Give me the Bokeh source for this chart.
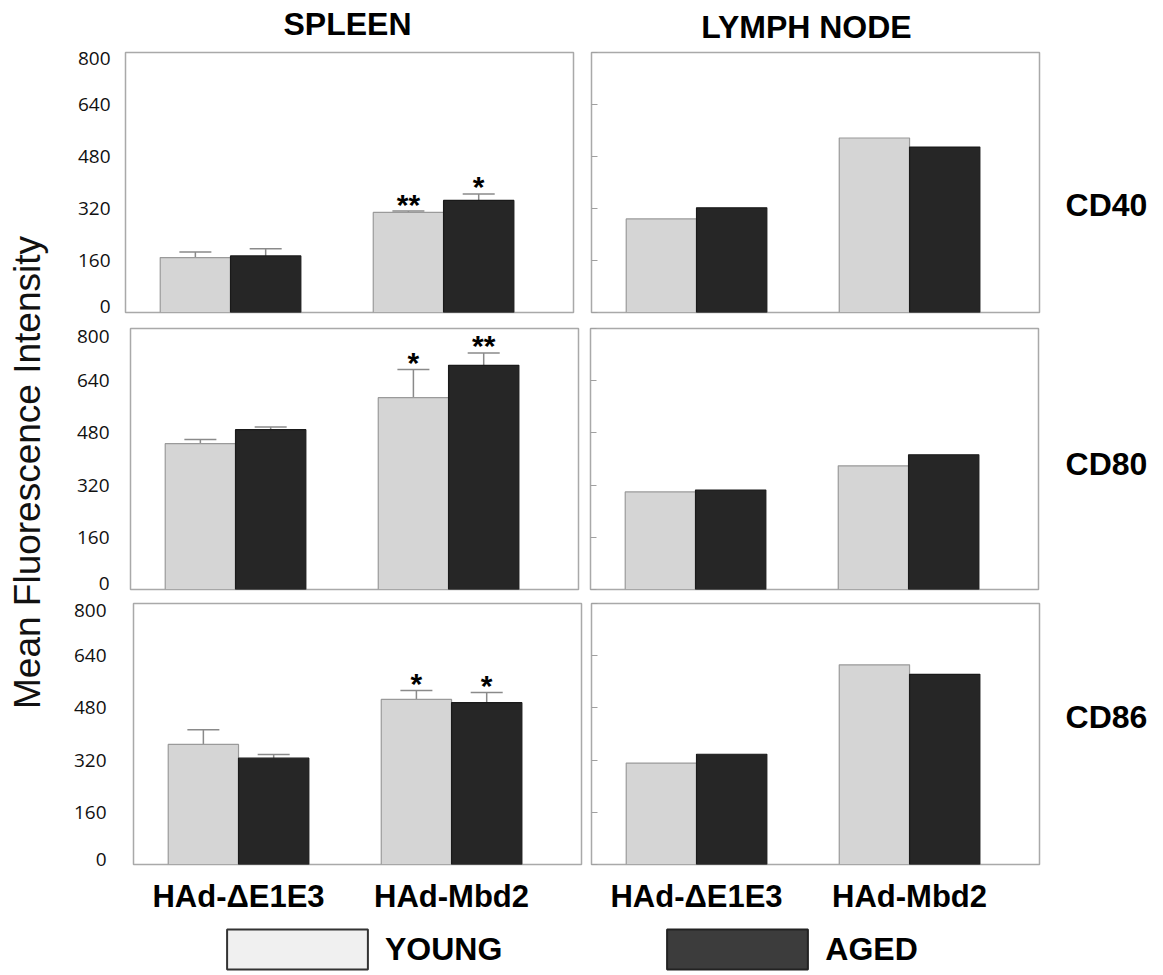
from math import pi

from bokeh.plotting import figure
from bokeh.layouts import row, column
from bokeh.models import (ColumnDataSource, Range1d, FixedTicker, Whisker, TeeHead,
                          Label, Legend, LegendItem)
from bokeh.transform import dodge
from bokeh.core.properties import value
from bokeh.embed import file_html
from bokeh.resources import INLINE

# ---------------- data ----------------
groups = ["HAd-\u0394E1E3", "HAd-Mbd2"]
markers = ["CD40", "CD80", "CD86"]
series = ["YOUNG", "AGED"]
tissues = ["SPLEEN", "LYMPH NODE"]
y_ticks = [0, 160, 320, 480, 640, 800]
y_title = "Mean Fluorescence Intensity"

spleen_cd40_young = [169, 308]
spleen_cd40_young_sem = [17, 4]
spleen_cd40_aged = [174, 345]
spleen_cd40_aged_sem = [22, 20]
spleen_cd40_young_sig = ["", "**"]
spleen_cd40_aged_sig = ["", "*"]

spleen_cd80_young = [447, 588]
spleen_cd80_young_sem = [13, 86]
spleen_cd80_aged = [490, 687]
spleen_cd80_aged_sem = [8, 38]
spleen_cd80_young_sig = ["", "*"]
spleen_cd80_aged_sig = ["", "**"]

spleen_cd86_young = [368, 506]
spleen_cd86_young_sem = [45, 27]
spleen_cd86_aged = [326, 496]
spleen_cd86_aged_sem = [11, 31]
spleen_cd86_young_sig = ["", "*"]
spleen_cd86_aged_sig = ["", "*"]

ln_cd40_young = [288, 537]
ln_cd40_aged = [322, 509]
ln_cd80_young = [299, 379]
ln_cd80_aged = [305, 413]
ln_cd86_young = [311, 612]
ln_cd86_aged = [338, 583]

# ---------------- styles ----------------
BOLD = "Liberation Sans"
YOUNG_FILL, YOUNG_LINE = "#d5d5d5", "#9a9a9a"
AGED_FILL, AGED_LINE = "#262626", "#1a1a1a"
ERR_COLOR = "#8a8a8a"
OUTLINE = "#a9a9a9"
BAR_W = 0.33
OFF = BAR_W / 2
XS = [i + 1 for i in range(len(groups))]


def blank(w, h):
    f = figure(width=w, height=h, output_backend="svg", toolbar_location=None,
               x_axis_location=None, y_axis_location=None,
               x_range=Range1d(0, w), y_range=Range1d(0, h),
               min_border=0, outline_line_color=None)
    f.grid.visible = False
    return f


def panel(young, aged, w, h, borders, show_labels, standoff=0, end_nudge=(0, 0),
          bottom=False, ysem=None, asem=None, ysig=None, asig=None):
    p = figure(width=w, height=h, output_backend="svg", toolbar_location=None,
               x_range=Range1d(0.507, 2.61), y_range=Range1d(0, 800),
               x_axis_location="below" if bottom else None,
               min_border_left=borders[0], min_border_right=borders[1],
               min_border_top=borders[2], min_border_bottom=borders[3])
    p.grid.visible = False
    p.outline_line_color = OUTLINE
    p.outline_line_width = 1.5

    ax = p.yaxis[0]
    ax.axis_line_color = None
    ax.minor_tick_line_color = None
    if show_labels:
        # the end labels sit a few pixels inside the frame, as in the original figure
        frame_h = h - borders[2] - borders[3]
        per_px = (y_ticks[-1] - y_ticks[0]) / frame_h
        lo = round(y_ticks[0] + end_nudge[0] * per_px, 1)
        hi = round(y_ticks[-1] - end_nudge[1] * per_px, 1)
        pos = [lo] + y_ticks[1:-1] + [hi]
        ax.ticker = FixedTicker(ticks=pos)
        ax.major_label_overrides = {q: str(t) for q, t in zip(pos, y_ticks)}
        ax.major_tick_in = 0
        ax.major_tick_out = 0
        ax.major_label_standoff = standoff
        ax.major_label_text_font = "Open Sans"
        ax.major_label_text_font_size = "19px"
        ax.major_label_text_color = "#111111"
    else:
        ax.ticker = FixedTicker(ticks=y_ticks)
        ax.major_tick_in = 6
        ax.major_tick_out = 0
        ax.major_tick_line_color = "#a0a0a0"
        ax.major_label_standoff = 0
        ax.major_label_overrides = {t: "" for t in y_ticks}

    if bottom:
        xa = p.xaxis[0]
        xa.ticker = FixedTicker(ticks=XS)
        xa.major_label_overrides = {x: g for x, g in zip(XS, groups)}
        xa.axis_line_color = None
        xa.major_tick_in = 0
        xa.major_tick_out = 0
        xa.minor_tick_line_color = None
        xa.major_label_standoff = 14
        xa.major_label_text_font = BOLD
        xa.major_label_text_font_style = "bold"
        xa.major_label_text_font_size = "31px"
        xa.major_label_text_color = "black"

    for vals, sem, sig, off, fill, line in (
            (young, ysem, ysig, -OFF, YOUNG_FILL, YOUNG_LINE),
            (aged, asem, asig, OFF, AGED_FILL, AGED_LINE)):
        data = dict(x=XS, top=vals)
        if sem is not None:
            data["upper"] = [v + s for v, s in zip(vals, sem)]
            data["sig"] = sig
        src = ColumnDataSource(data)
        p.vbar(x=dodge("x", off, range=p.x_range), top="top", bottom=0, width=BAR_W,
               source=src, fill_color=fill, line_color=line, line_width=1.2)
        if sem is not None:
            wk = Whisker(source=src, base=dodge("x", off, range=p.x_range),
                         upper="upper", lower="top", dimension="height",
                         line_color=ERR_COLOR, line_width=1.5,
                         upper_head=TeeHead(size=32, line_color=ERR_COLOR, line_width=1.5),
                         lower_head=None)
            p.add_layout(wk)
            p.text(x=dodge("x", off, range=p.x_range), y="upper", text="sig", source=src,
                   text_font=value(BOLD), text_font_style="bold", text_font_size="30px",
                   text_align="center", text_baseline="middle", y_offset=-7,
                   text_color="black")
    return p


def bold_label(x, y, text, size="32px"):
    return Label(x=x, y=y, text=text, text_font=BOLD, text_font_style="bold",
                 text_font_size=size, text_align="center", text_baseline="middle",
                 text_color="black")


# ---------------- layout sizes ----------------
LW, RW, CW, YW = 526, 459, 110, 60
HH, H1, H2, H3, HL = 46, 274, 276, 326, 52
TOTAL_W = YW + LW + RW + CW

# header
header = blank(TOTAL_W, HH)
header.add_layout(bold_label(347, HH - 23.5, tissues[0]))
header.add_layout(bold_label(806, HH - 26, tissues[1]))

# rows
l1 = panel(spleen_cd40_young, spleen_cd40_aged, LW, H1, (65, 13, 6, 8), True, 15, (6.5, 6),
           ysem=spleen_cd40_young_sem, asem=spleen_cd40_aged_sem,
           ysig=spleen_cd40_young_sig, asig=spleen_cd40_aged_sig)
r1 = panel(ln_cd40_young, ln_cd40_aged, RW, H1, (5, 6, 6, 8), False)
l2 = panel(spleen_cd80_young, spleen_cd80_aged, LW, H2, (70, 8, 8, 7), True, 21, (6, 8),
           ysem=spleen_cd80_young_sem, asem=spleen_cd80_aged_sem,
           ysig=spleen_cd80_young_sig, asig=spleen_cd80_aged_sig)
r2 = panel(ln_cd80_young, ln_cd80_aged, RW, H2, (4, 7, 8, 7), False)
l3 = panel(spleen_cd86_young, spleen_cd86_aged, LW, H3, (73, 5, 7, 58), True, 27, (5, 7),
           bottom=True,
           ysem=spleen_cd86_young_sem, asem=spleen_cd86_aged_sem,
           ysig=spleen_cd86_young_sig, asig=spleen_cd86_aged_sig)
r3 = panel(ln_cd86_young, ln_cd86_aged, RW, H3, (5, 6, 7, 58), False, bottom=True)

cds = []
for name, h, yb in ((markers[0], H1, 113), (markers[1], H2, 133), (markers[2], H3, 184)):
    c = blank(CW, h)
    c.add_layout(bold_label(61, yb, name))
    cds.append(c)

ylab = blank(YW, H1 + H2 + H3)
ylab.add_layout(Label(x=27, y=H1 + H2 + H3 - (472 - HH), text=y_title, text_font=BOLD,
                      text_font_size="37px", angle=pi / 2, text_align="center",
                      text_baseline="middle", text_color="#111111"))

# legend (proxy renderers carry the swatch styles only, no drawn data)
lg = blank(TOTAL_W, HL)
nan = float("nan")
ry = lg.vbar(x=[nan], top=[nan], width=1, fill_color="#f0f0f0", line_color="#333333",
             line_width=2)
ra = lg.vbar(x=[nan], top=[nan], width=1, fill_color="#3c3c3c", line_color="#222222",
             line_width=2)
legend = Legend(items=[LegendItem(label=series[0], renderers=[ry]),
                       LegendItem(label=series[1], renderers=[ra])],
                location=(209, 0), orientation="horizontal",
                glyph_width=176, glyph_height=50, label_standoff=0, spacing=147,
                padding=0, margin=0, border_line_color=None, background_fill_alpha=0,
                label_text_font=BOLD, label_text_font_style="bold",
                label_text_font_size="32px", label_height=50, label_text_color="black")
lg.add_layout(legend)

grid = column(row(l1, r1, cds[0]), row(l2, r2, cds[1]), row(l3, r3, cds[2]))
layout = column(header, row(ylab, grid), lg)

open("out.html", "w").write(file_html(layout, INLINE))
